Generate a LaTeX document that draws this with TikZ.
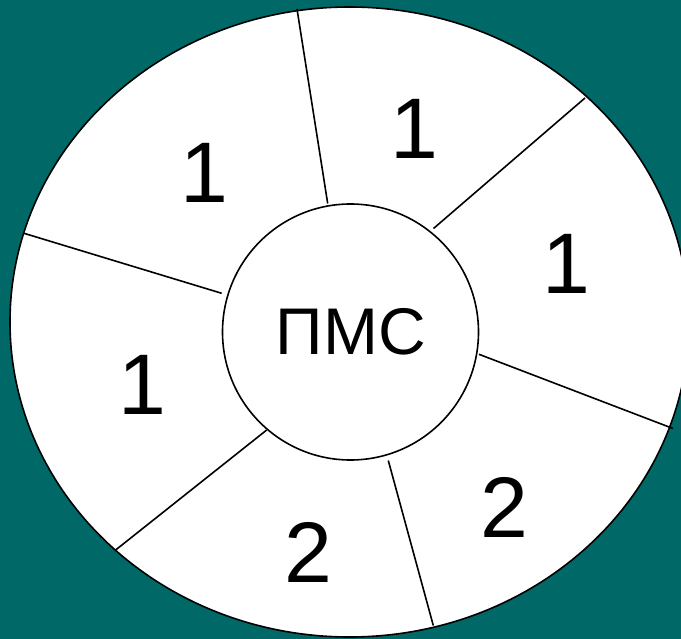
\documentclass[tikz,border=0pt]{standalone}
\usepackage{fontspec}
\setmainfont{Liberation Sans}
\definecolor{bgteal}{RGB}{0,104,102}
\tikzset{
  rim/.style={draw=black, line width=1.6pt, fill=white},
  spoke/.style={draw=black, line width=1.6pt},
  digit/.style={inner sep=0pt, anchor=base, font=\fontsize{86}{86}\selectfont},
  label/.style={inner sep=0pt, anchor=base, font=\fontsize{66}{66}\selectfont}
}
\begin{document}
\begin{tikzpicture}[x=1pt,y=-1pt]
\useasboundingbox (0,0) rectangle (681,639);
\fill[bgteal] (0,0) rectangle (681,639);
\begin{scope}
\clip (0,0) rectangle (681,639);
\draw[rim] (349.5,322) ellipse [x radius=339.5, y radius=315];
\end{scope}
% spoke end points
\coordinate (s1o) at (297,9);
\coordinate (s1i) at (327.7,203.5);
\coordinate (s2o) at (585,98);
\coordinate (s2i) at (433.5,228.5);
\coordinate (s3i) at (479,354.3);
\coordinate (s3o) at (673,428.5);
\coordinate (s4i) at (388.3,460.5);
\coordinate (s4o) at (433.3,625.5);
\coordinate (s5i) at (266.7,430);
\coordinate (s5o) at (115,550.5);
\coordinate (s6o) at (24,233.3);
\coordinate (s6i) at (221.7,293.3);
\draw[spoke] (s1o) -- (s1i);
\draw[spoke] (s2o) -- (s2i);
\draw[spoke] (s3i) -- (s3o);
\draw[spoke] (s4i) -- (s4o);
\draw[spoke] (s5i) -- (s5o);
\draw[spoke] (s6o) -- (s6i);
\node[circle, rim, minimum size=256pt, inner sep=0pt] (hub) at (350.5,332) {};
\node[label] (pms) at (351,355) {ПМС};
\node[digit] (n1) at (204,203) {1};
\node[digit] (n2) at (414.5,159) {1};
\node[digit] (n3) at (566,294) {1};
\node[digit] (n4) at (142,415) {1};
\node[digit] (n5) at (308,582) {2};
\node[digit] (n6) at (504.5,537) {2};
\end{tikzpicture}
\end{document}
